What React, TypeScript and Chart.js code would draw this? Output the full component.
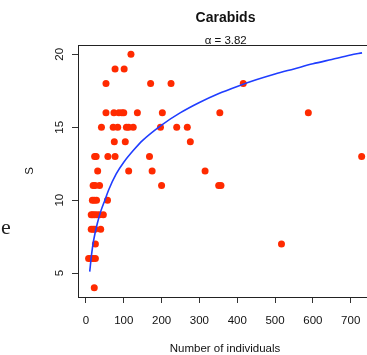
import React, { useEffect, useRef } from "react";
import { Chart, registerables } from "chart.js";

Chart.register(...registerables);

// Observed points: number of individuals (N) and species count (S)
const POINTS_N = [
  119,
  77, 101,
  53, 171, 225, 416,
  53, 74, 87, 95, 100, 136, 202, 354, 588,
  41, 72, 84, 107, 113, 125, 197, 240, 268,
  75, 104, 276,
  23, 27, 58, 77, 168, 729,
  31, 113, 175, 315,
  19, 24, 36, 200, 351, 357,
  17, 22, 28, 57,
  14, 18, 23, 29, 36, 46,
  14, 19, 24, 39,
  25, 517,
  7, 13, 19, 25,
  22,
];
const POINTS_S = [
  20,
  19, 19,
  18, 18, 18, 18,
  16, 16, 16, 16, 16, 16, 16, 16, 16,
  15, 15, 15, 15, 15, 15, 15, 15, 15,
  14, 14, 14,
  13, 13, 13, 13, 13, 13,
  12, 12, 12, 12,
  11, 11, 11, 11, 11, 11,
  10, 10, 10, 10,
  9, 9, 9, 9, 9, 9,
  8, 8, 8, 8,
  7, 7,
  6, 6, 6, 6,
  4,
];

// Fitted curve
const CURVE_N = [10, 15, 20, 30, 40, 50, 60, 80, 100, 125, 150, 200, 250, 300, 350, 400, 450, 500, 550, 600, 650, 700, 730];
const CURVE_S = [5.1, 6.3, 7.2, 8.4, 9.3, 10.0, 10.7, 11.8, 12.6, 13.4, 14.1, 15.15, 16.0, 16.7, 17.3, 17.8, 18.25, 18.65, 19.0, 19.35, 19.65, 19.95, 20.1];

const X_TICKS = [0, 100, 200, 300, 400, 500, 600, 700];
const Y_TICKS = [5, 10, 15, 20];

const TITLE = "Carabids";
const SUBTITLE = "\u03B1 = 3.82";
const X_TITLE = "Number of individuals";
const Y_TITLE = "S";

const FONT = "'Liberation Sans', Arial, Helvetica, sans-serif";

const overlay = {
  id: "overlay",
  afterDraw(chart: any) {
    const { ctx, chartArea: a, scales } = chart;
    const xs = scales.x;
    const ys = scales.y;
    ctx.save();
    ctx.strokeStyle = "#222";
    ctx.lineWidth = 1;
    ctx.strokeRect(a.left + 0.5, a.top + 0.5, a.right - a.left, a.bottom - a.top);

    ctx.fillStyle = "#111";
    ctx.textAlign = "center";
    ctx.textBaseline = "alphabetic";
    ctx.font = `bold 14px ${FONT}`;
    ctx.fillText(TITLE, 225.5, 21.5);
    ctx.font = `11.5px ${FONT}`;
    ctx.fillText(SUBTITLE, 225.7, 43.5);

    ctx.font = `11.5px ${FONT}`;
    for (const v of X_TICKS) {
      ctx.fillText(String(v), xs.getPixelForValue(v), 324);
    }
    ctx.fillText(X_TITLE, 225, 352);

    for (const v of Y_TICKS) {
      ctx.save();
      ctx.translate(63, ys.getPixelForValue(v));
      ctx.rotate(-Math.PI / 2);
      ctx.fillText(String(v), 0, 0);
      ctx.restore();
    }
    ctx.save();
    ctx.translate(33, (a.top + a.bottom) / 2);
    ctx.rotate(-Math.PI / 2);
    ctx.fillText(Y_TITLE, 0, 0);
    ctx.restore();
    ctx.restore();
  },
};

export default function App() {
  const ref = useRef<HTMLCanvasElement | null>(null);

  useEffect(() => {
    document.body.style.margin = "0";
    const canvas = ref.current!;
    const chart = new Chart(canvas, {
      type: "scatter",
      data: {
        datasets: [
          {
            type: "line",
            data: CURVE_N.map((n, i) => ({ x: n, y: CURVE_S[i] })),
            borderColor: "#1f3dff",
            borderWidth: 1.6,
            pointRadius: 0,
            cubicInterpolationMode: "monotone",
            fill: false,
            order: 0,
          } as any,
          {
            data: POINTS_N.map((n, i) => ({ x: n, y: POINTS_S[i] })),
            backgroundColor: "#ff2a00",
            borderWidth: 0,
            pointRadius: 3.5,
            order: 1,
          },
        ],
      },
      options: {
        responsive: false,
        animation: false,
        devicePixelRatio: 1,
        layout: { padding: { top: 45, right: 7, left: 0, bottom: 0 } },
        plugins: { legend: { display: false }, tooltip: { enabled: false }, title: { display: false } },
        scales: {
          x: {
            type: "linear",
            min: -21,
            max: 759,
            afterFit: (s: any) => {
              s.height = 58;
            },
            afterBuildTicks: (s: any) => {
              s.ticks = X_TICKS.map((v) => ({ value: v }));
            },
            ticks: { display: false },
            border: { display: false },
            grid: { drawOnChartArea: false, drawTicks: true, tickLength: 6, color: "#333", lineWidth: 1 },
          },
          y: {
            type: "linear",
            min: 3.36,
            max: 20.64,
            afterFit: (s: any) => {
              s.width = 78;
            },
            afterBuildTicks: (s: any) => {
              s.ticks = Y_TICKS.map((v) => ({ value: v }));
            },
            ticks: { display: false },
            border: { display: false },
            grid: { drawOnChartArea: false, drawTicks: true, tickLength: 6, color: "#333", lineWidth: 1 },
          },
        },
      },
      plugins: [overlay],
    });
    return () => chart.destroy();
  }, []);

  return (
    <div style={{ position: "fixed", left: 0, top: 0, width: 367, height: 355, overflow: "hidden", background: "#fff" }}>
      <canvas ref={ref} width={380} height={355} style={{ display: "block", width: 380, height: 355 }} />
      <span
        style={{
          position: "absolute",
          left: 1,
          top: 216,
          fontFamily: "'Liberation Serif', 'Times New Roman', serif",
          fontSize: 22,
          lineHeight: "22px",
          color: "#222",
        }}
      >
        e
      </span>
    </div>
  );
}
